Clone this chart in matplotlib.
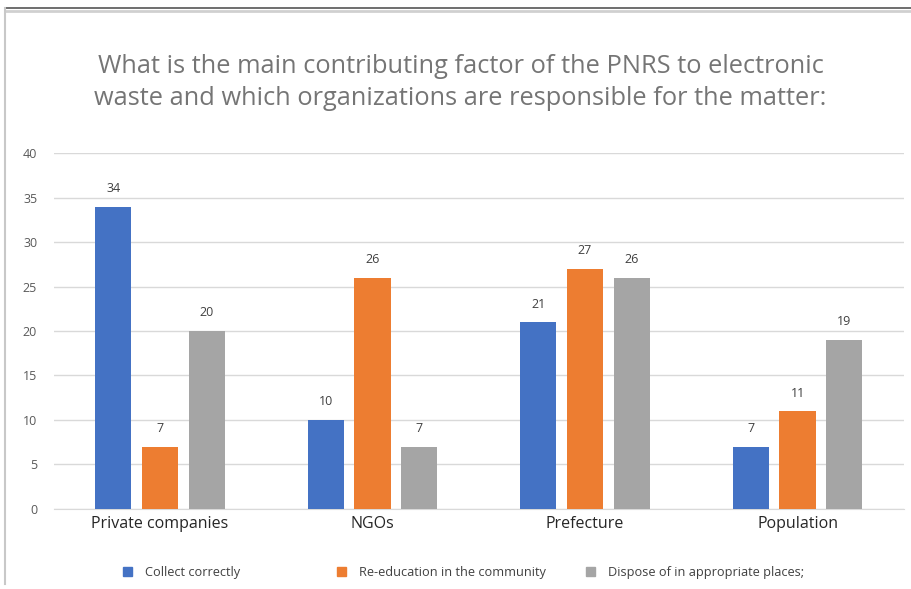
import matplotlib.pyplot as plt
import numpy as np
from matplotlib.lines import Line2D

# chart data
categories = ['Private companies', 'NGOs', 'Prefecture', 'Population']
series_names = ['Collect correctly', 'Re-education in the community', 'Dispose of in appropriate places;']
collect = [34, 10, 21, 7]
reeducation = [7, 26, 27, 11]
dispose = [20, 7, 26, 19]
colors = ['#4472c4', '#ed7d31', '#a5a5a5']

plt.rcParams['font.family'] = ['Open Sans', 'DejaVu Sans']

fig = plt.figure(figsize=(9.12, 5.89), dpi=100)
ax = fig.add_axes([0.059, 0.136, 0.932, 0.604])

x = np.arange(len(categories))
w = 0.17
step = 0.22
for i, (vals, c) in enumerate(zip([collect, reeducation, dispose], colors)):
    xs = x + (i - 1) * step
    ax.bar(xs, vals, width=w, color=c, zorder=3)
    for xi, v in zip(xs, vals):
        ax.text(xi, v + 1.3, str(v), ha='center', va='bottom', fontsize=9, color='#404040')

ax.set_xlim(-0.5, 3.5)
ax.set_ylim(0, 40)
ax.set_yticks(range(0, 41, 5))
ax.grid(axis='y', color='#d9d9d9', linewidth=1, zorder=0)
for s in ['top', 'right', 'left']:
    ax.spines[s].set_visible(False)
ax.spines['bottom'].set_color('#d9d9d9')
ax.tick_params(axis='y', length=0, labelsize=9, labelcolor='#595959', pad=12)
ax.tick_params(axis='x', length=0, labelsize=11.5, labelcolor='#262626', pad=5)
ax.set_xticks(x)
ax.set_xticklabels(categories)

fig.text(0.505, 0.86, 'What is the main contributing factor of the PNRS to electronic\nwaste and which organizations are responsible for the matter:',
         ha='center', va='center', fontsize=18.3, color='#757575', linespacing=1.4)

# legend at the bottom, one entry per slot like the original
legend_x = [0.135, 0.370, 0.643]
for c, name, lx in zip(colors, series_names, legend_x):
    fig.legend([plt.Rectangle((0, 0), 1, 1, color=c)], [name], loc='center left',
               bbox_to_anchor=(lx, 0.028), frameon=False, fontsize=9.2,
               handlelength=0.7, handleheight=0.7, handletextpad=1.0,
               labelcolor='#404040', borderaxespad=0, borderpad=0)

# screenshot frame
fig.add_artist(Line2D([0.006, 1], [0.986, 0.986], color='#555555', linewidth=1.2, transform=fig.transFigure))
fig.add_artist(Line2D([0.006, 1], [0.982, 0.982], color='#d0d0d0', linewidth=2, transform=fig.transFigure))
fig.add_artist(Line2D([0.006, 0.006], [0.008, 0.986], color='#c8c8c8', linewidth=1.5, transform=fig.transFigure))

fig.savefig('out.png', dpi=100)
